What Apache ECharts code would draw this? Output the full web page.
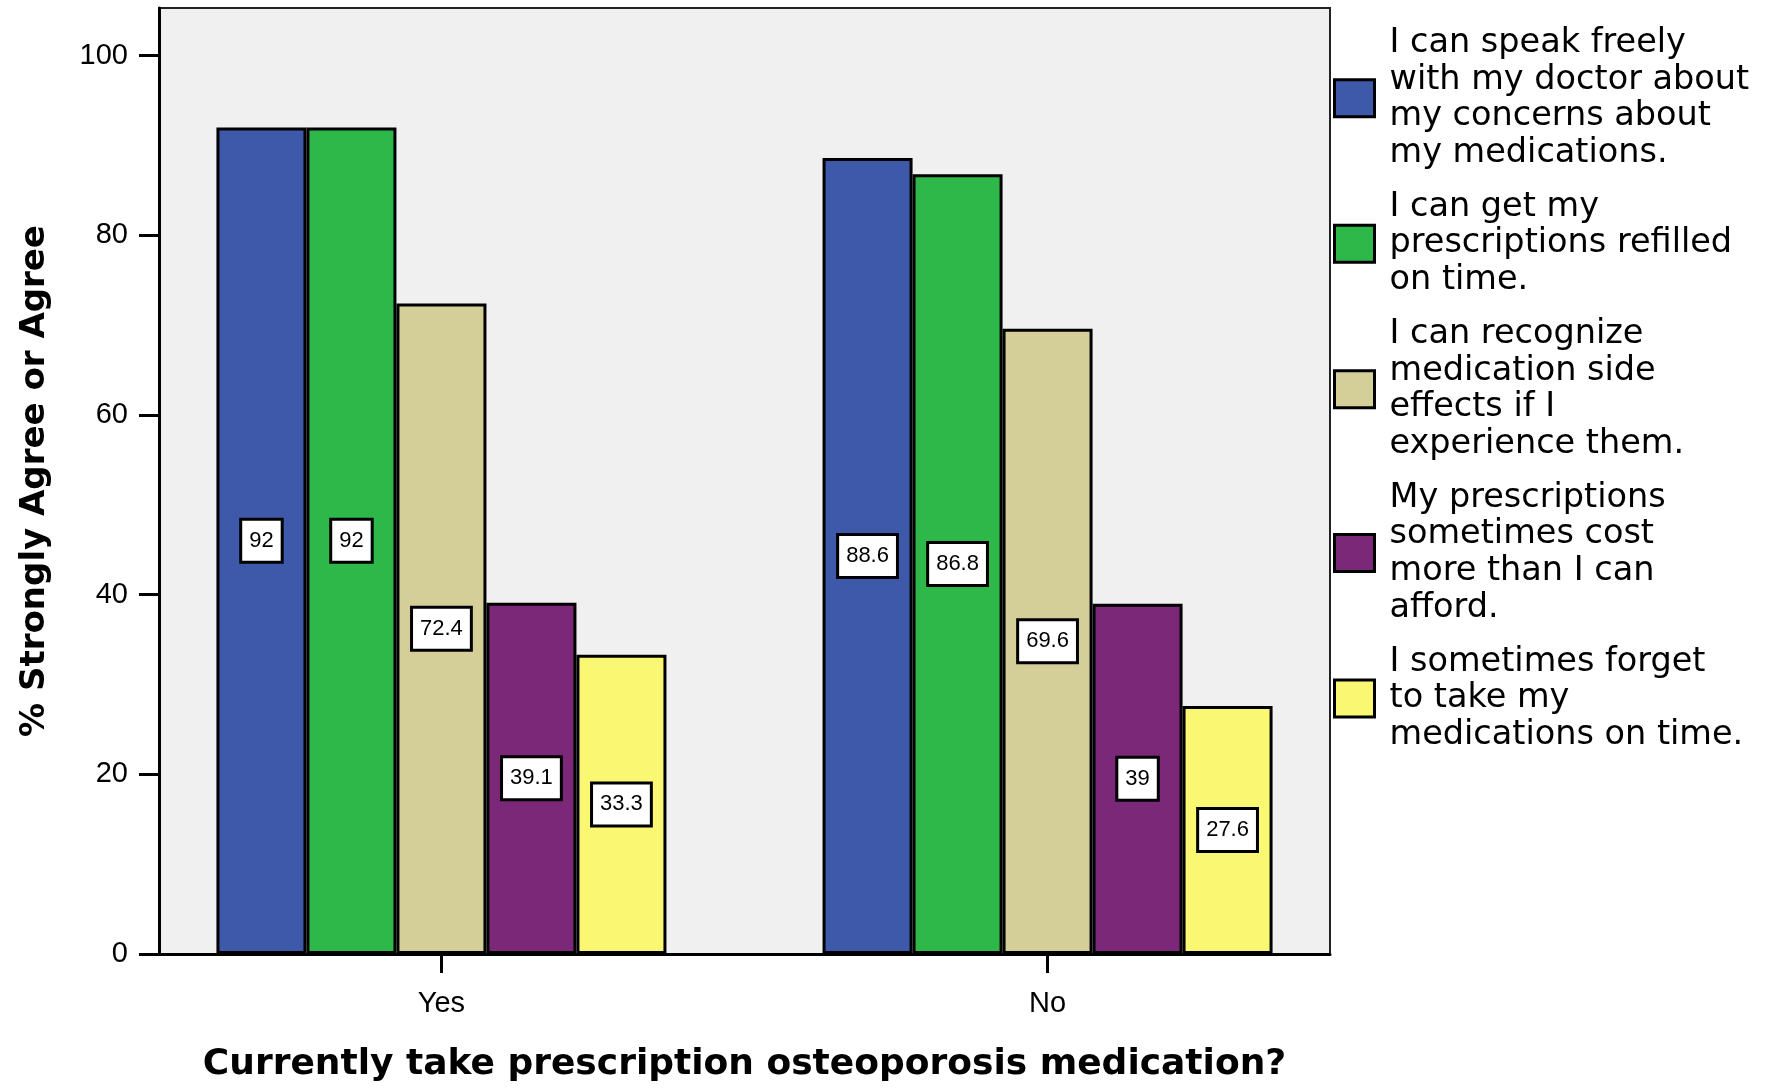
<!DOCTYPE html>
<html>
<head>
<meta charset="utf-8">
<script src="https://cdn.jsdelivr.net/npm/echarts@6/dist/echarts.min.js"></script>
<style>
html,body{margin:0;padding:0;background:#fff;}
#chart{width:1773px;height:1088px;}
</style>
</head>
<body>
<div id="chart"></div>
<script>
const categories = ['Yes', 'No'];
const seriesNames = [
  'I can speak freely\nwith my doctor about\nmy concerns about\nmy medications.',
  'I can get my\nprescriptions refilled\non time.',
  'I can recognize\nmedication side\neffects if I\nexperience them.',
  'My prescriptions\nsometimes cost\nmore than I can\nafford.',
  'I sometimes forget\nto take my\nmedications on time.'
];
const speakFreely = [92, 88.6];
const refilledOnTime = [92, 86.8];
const recognizeSideEffects = [72.4, 69.6];
const costMore = [39.1, 39];
const forgetToTake = [33.3, 27.6];
const yTicks = [0, 20, 40, 60, 80, 100];
const xTicks = [0, 1];

const colors = ['#3e58aa', '#2fb84a', '#d4cf98', '#7b2879', '#faf772'];
const allValues = [speakFreely, refilledOnTime, recognizeSideEffects, costMore, forgetToTake];

const chart = echarts.init(document.getElementById('chart'));

const series = allValues.map((vals, i) => ({
  name: seriesNames[i],
  type: 'bar',
  barWidth: 90,
  barGap: '0%',
  data: vals.map((v, j) => [j, v]),
  itemStyle: { color: colors[i], borderColor: '#000', borderWidth: 3 },
  label: {
    show: true,
    position: 'inside',
    formatter: p => String(p.value[1]),
    fontFamily: 'Liberation Sans, Arial, sans-serif',
    fontSize: 22,
    color: '#000',
    backgroundColor: '#fff',
    borderColor: '#000',
    borderWidth: 3,
    padding: [9, 7, 9, 7]
  },
  emphasis: { disabled: true }
}));

chart.setOption({
  animation: false,
  backgroundColor: '#fff',
  grid: {
    left: 159, right: 443, top: 8, bottom: 132,
    show: true, backgroundColor: '#f0f0f0', borderColor: '#222', borderWidth: 2
  },
  legend: {
    orient: 'vertical',
    left: 1333, top: 25,
    padding: 0,
    itemGap: 17.4,
    itemWidth: 40, itemHeight: 37,
    icon: 'rect',
    itemStyle: { borderColor: '#000', borderWidth: 3 },
    textStyle: {
      fontFamily: 'DejaVu Sans, sans-serif',
      fontSize: 33.5,
      lineHeight: 36.6,
      color: '#000',
      padding: [0, 0, 0, 10]
    },
    selectedMode: false,
    data: seriesNames
  },
  xAxis: {
    type: 'value',
    min: -0.466, max: 1.466,
    name: 'Currently take prescription osteoporosis medication?',
    nameLocation: 'middle',
    nameGap: 93,
    nameTextStyle: { fontFamily: 'DejaVu Sans, sans-serif', fontWeight: 'bold', fontSize: 36, color: '#000' },
    axisLine: { show: true, onZero: false, lineStyle: { color: '#000', width: 3 } },
    axisTick: { show: true, length: 19, lineStyle: { color: '#000', width: 3 }, customValues: xTicks },
    axisLabel: {
      customValues: xTicks,
      formatter: v => categories[Math.round(v)],
      fontFamily: 'Liberation Sans, Arial, sans-serif',
      fontSize: 29, color: '#000', margin: 35
    },
    splitLine: { show: false }
  },
  yAxis: {
    type: 'value',
    min: 0, max: 105.3,
    name: '% Strongly Agree or Agree',
    nameLocation: 'middle',
    nameGap: 107,
    nameTextStyle: { fontFamily: 'DejaVu Sans, sans-serif', fontWeight: 'bold', fontSize: 34, color: '#000' },
    axisLine: { show: true, onZero: false, lineStyle: { color: '#000', width: 3 } },
    axisTick: { show: true, length: 20, lineStyle: { color: '#000', width: 3 }, customValues: yTicks },
    axisLabel: {
      customValues: yTicks,
      fontFamily: 'Liberation Sans, Arial, sans-serif',
      fontSize: 29, color: '#000', margin: 31
    },
    splitLine: { show: false }
  },
  series: series
});
</script>
</body>
</html>
